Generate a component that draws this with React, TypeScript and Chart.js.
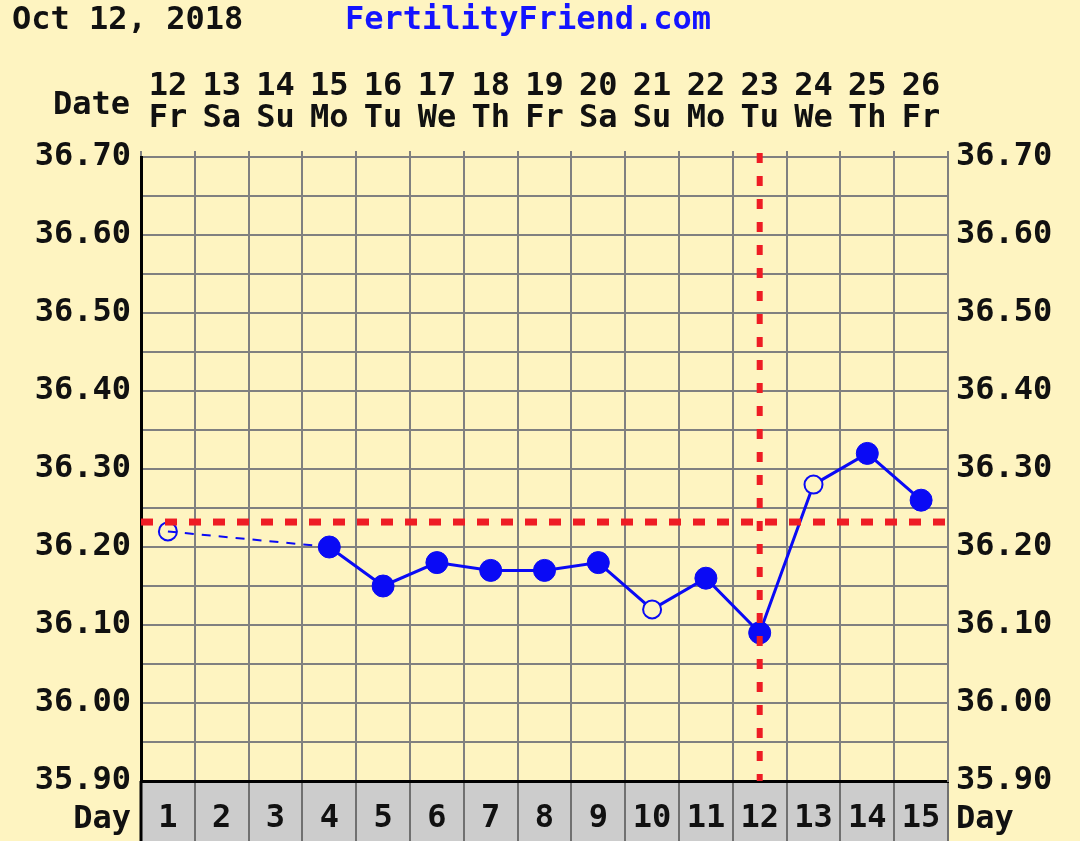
import React, { useEffect, useRef } from 'react';
import { Chart, registerables } from 'chart.js';

Chart.register(...registerables);

// ---- data ----
const dayLabels = ['1', '2', '3', '4', '5', '6', '7', '8', '9', '10', '11', '12', '13', '14', '15'];
const dateLabels = ['12', '13', '14', '15', '16', '17', '18', '19', '20', '21', '22', '23', '24', '25', '26'];
const weekdayLabels = ['Fr', 'Sa', 'Su', 'Mo', 'Tu', 'We', 'Th', 'Fr', 'Sa', 'Su', 'Mo', 'Tu', 'We', 'Th', 'Fr'];
const temps: (number | null)[] = [36.22, null, null, 36.2, 36.15, 36.18, 36.17, 36.17, 36.18, 36.12, 36.16, 36.09, 36.28, 36.32, 36.26];
const hollow = [true, false, false, false, false, false, false, false, false, true, false, false, true, false, false];
const coverline = 36.232;
const ovulationIndex = 11;
const yMin = 35.9;
const yMax = 36.7;

const BG = '#FEF4C1';
const GRID = '#808080';
const BLUE = '#0A0AF5';
const RED = '#EE1C24';
const TEXT = '#111111';
const FONT_FAMILY = '"DejaVu Sans Mono", monospace';
const FONT = { family: FONT_FAMILY, size: 32, weight: 'bold' as const, lineHeight: 1 };

const isGap = (c: any) => temps[c.p1DataIndex - 1] === null;

const decorPlugin = {
  id: 'decor',
  beforeDraw(chart: any) {
    const { ctx, chartArea } = chart;
    ctx.save();
    ctx.fillStyle = BG;
    ctx.fillRect(0, 0, chart.width, chart.height);
    ctx.fillStyle = '#CCCCCC';
    ctx.fillRect(chartArea.left, chartArea.bottom, chartArea.right - chartArea.left, chart.height - chartArea.bottom);
    ctx.restore();
  },
  afterDatasetsDraw(chart: any) {
    const { ctx, chartArea, scales } = chart;
    const y = scales.y.getPixelForValue(coverline);
    const x = scales.x.getPixelForValue(ovulationIndex);
    ctx.save();
    ctx.strokeStyle = RED;
    ctx.lineWidth = 7;
    ctx.setLineDash([12, 12]);
    ctx.beginPath();
    ctx.moveTo(chartArea.left, y);
    ctx.lineTo(chartArea.right, y);
    ctx.stroke();
    ctx.lineWidth = 6;
    ctx.setLineDash([10, 13]);
    ctx.beginPath();
    ctx.moveTo(x, chartArea.top - 4);
    ctx.lineTo(x, chartArea.bottom);
    ctx.stroke();
    ctx.restore();
  },
  afterDraw(chart: any) {
    const { ctx, chartArea } = chart;
    ctx.save();
    ctx.strokeStyle = '#000000';
    ctx.lineWidth = 3;
    ctx.beginPath();
    ctx.moveTo(chartArea.left, chartArea.bottom);
    ctx.lineTo(chartArea.left, chart.height);
    ctx.stroke();
    ctx.font = `bold 32px ${FONT_FAMILY}`;
    ctx.textBaseline = 'middle';
    ctx.textAlign = 'left';
    ctx.fillStyle = TEXT;
    ctx.fillText('Oct 12, 2018', 12, 21);
    ctx.fillStyle = '#1414FF';
    ctx.fillText('FertilityFriend.com', 345, 21);
    ctx.fillStyle = TEXT;
    ctx.textAlign = 'right';
    ctx.fillText('Date', chartArea.left - 11, 106);
    ctx.fillText('Day', chartArea.left - 10, 820);
    ctx.textAlign = 'left';
    ctx.fillText('Day', chartArea.right + 8, 820);
    ctx.restore();
  },
};

export default function App() {
  const ref = useRef<HTMLCanvasElement | null>(null);

  useEffect(() => {
    if (!ref.current) return;
    const chart = new Chart(ref.current, {
      type: 'line',
      data: {
        labels: dayLabels,
        datasets: [
          {
            data: temps,
            borderColor: BLUE,
            borderWidth: 3,
            spanGaps: true,
            pointRadius: hollow.map((h) => (h ? 9 : 11)),
            pointBorderWidth: hollow.map((h) => (h ? 2 : 1)),
            pointBorderColor: BLUE,
            pointBackgroundColor: hollow.map((h, i) => (h ? (i === 0 ? 'rgba(0,0,0,0)' : BG) : BLUE)),
            segment: {
              borderDash: (c: any) => (isGap(c) ? [9, 8] : undefined),
              borderWidth: (c: any) => (isGap(c) ? 2 : undefined),
            },
          } as any,
        ],
      },
      plugins: [decorPlugin],
      options: {
        responsive: false,
        animation: false,
        layout: { padding: 0 },
        plugins: { legend: { display: false }, tooltip: { enabled: false }, title: { display: false } },
        scales: {
          x: {
            type: 'category',
            position: 'bottom',
            offset: true,
            afterFit: (s: any) => {
              s.height = 60;
            },
            grid: { offset: true, color: GRID, lineWidth: 2, tickLength: 60, tickColor: '#707070', tickWidth: 2 },
            border: { color: '#000000', width: 3 },
            ticks: { color: TEXT, font: FONT, padding: -38, autoSkip: false, maxRotation: 0 },
          },
          xTop: {
            type: 'category',
            position: 'top',
            offset: true,
            afterFit: (s: any) => {
              s.height = 157;
            },
            grid: { offset: true, drawOnChartArea: false, color: GRID, lineWidth: 2, tickLength: 6 },
            border: { color: GRID, width: 2 },
            ticks: {
              color: TEXT,
              font: FONT,
              padding: 16,
              autoSkip: false,
              maxRotation: 0,
              callback: (_v: any, i: number) => [dateLabels[i], weekdayLabels[i]],
            },
          },
          y: {
            type: 'linear',
            position: 'left',
            min: yMin,
            max: yMax,
            afterFit: (s: any) => {
              s.width = 141;
            },
            grid: { color: GRID, lineWidth: 2, drawTicks: false },
            border: { color: '#000000', width: 3 },
            ticks: {
              stepSize: 0.05,
              color: TEXT,
              font: FONT,
              padding: 10,
              callback: (v: any, i: number) => (i % 2 === 0 ? Number(v).toFixed(2) : ''),
            },
          },
          yRight: {
            type: 'linear',
            position: 'right',
            min: yMin,
            max: yMax,
            afterFit: (s: any) => {
              s.width = 132;
            },
            grid: { drawOnChartArea: false, drawTicks: false },
            border: { color: GRID, width: 2 },
            ticks: {
              stepSize: 0.05,
              color: TEXT,
              font: FONT,
              padding: 8,
              callback: (v: any, i: number) => (i % 2 === 0 ? Number(v).toFixed(2) : ''),
            },
          },
        },
      } as any,
    });
    return () => chart.destroy();
  }, []);

  return (
    <div style={{ position: 'fixed', left: 0, top: 0, width: 1080, height: 841, background: BG }}>
      <canvas ref={ref} width={1080} height={841} style={{ display: 'block', width: 1080, height: 841 }} />
    </div>
  );
}
